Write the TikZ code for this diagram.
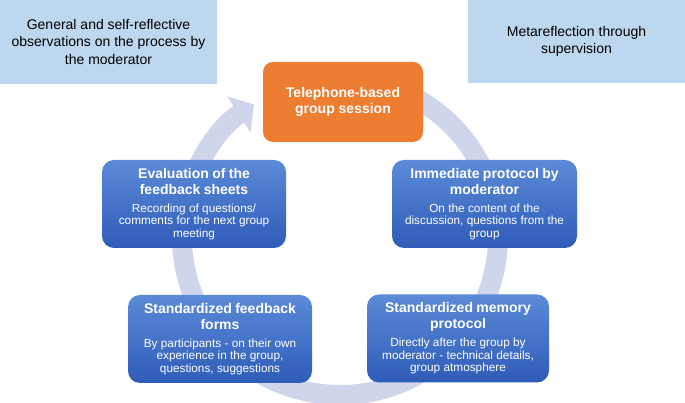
\documentclass[tikz,border=0pt]{standalone}
\usepackage{fontspec}
\setmainfont{Liberation Sans}
\usetikzlibrary{arrows.meta}
\definecolor{lightbox}{HTML}{BDD7EE}
\definecolor{orangebox}{HTML}{ED7D31}
\definecolor{bandcol}{HTML}{CFD5EB}
\definecolor{bluetop}{HTML}{5B8AD8}
\definecolor{bluebot}{HTML}{2E5CB8}
\newcommand{\steptext}[2]{{\bfseries\fontsize{14}{16}\selectfont #1\par}\vspace{5pt}{\fontsize{11.8}{12.6}\selectfont #2\par}}
\begin{document}
\begin{tikzpicture}[x=1pt,y=1pt,
 topbox/.style={fill=lightbox, minimum width=217pt, align=center, inner sep=0pt, text=black,
   font=\fontsize{14}{17.5}\selectfont},
 sessionbox/.style={fill=orangebox, rounded corners=10pt, minimum width=160pt, minimum height=80pt,
   align=center, text=white, inner sep=0pt, font=\bfseries\fontsize{14}{16}\selectfont},
 stepbox/.style={top color=bluetop, bottom color=bluebot, rounded corners=12pt, minimum height=88pt,
   text width=180pt, align=center, text=white, inner sep=2pt},
 band/.style={bandcol, line width=20pt, -{Triangle[length=18pt,width=42pt]}}
]
\useasboundingbox (0,0) rectangle (685,403);
\coordinate (ctr) at (340,166);
\draw[band] (ctr) ++(80:158) arc[start angle=80, end angle=-237, radius=158];

\node[topbox, minimum height=84pt] (obs) at (108.5,361)
  {General and self-reflective\\observations on the process by\\the moderator};
\node[topbox, minimum height=83pt] (meta) at (576.5,361.5)
  {Metareflection through\\supervision};

\node[sessionbox] (session) at (343,301) {Telephone-based\\group session};

\node[stepbox, minimum width=184pt, text width=180pt] (eval) at (194,199)
  {\steptext{Evaluation of the\\feedback sheets}{Recording of questions/\\comments for the next group\\meeting}};
\node[stepbox, minimum width=185pt, text width=181pt] (immed) at (484.5,199)
  {\steptext{Immediate protocol by\\moderator}{On the content of the\\discussion, questions from the\\group}};
\node[stepbox, minimum width=184pt, text width=180pt] (forms) at (220,64)
  {\steptext{Standardized feedback\\forms}{By participants - on their own\\experience in the group,\\questions, suggestions}};
\node[stepbox, minimum width=182pt, text width=178pt] (memory) at (458,64.5)
  {\steptext{Standardized memory\\protocol}{Directly after the group by\\moderator - technical details,\\group atmosphere}};
\end{tikzpicture}
\end{document}
